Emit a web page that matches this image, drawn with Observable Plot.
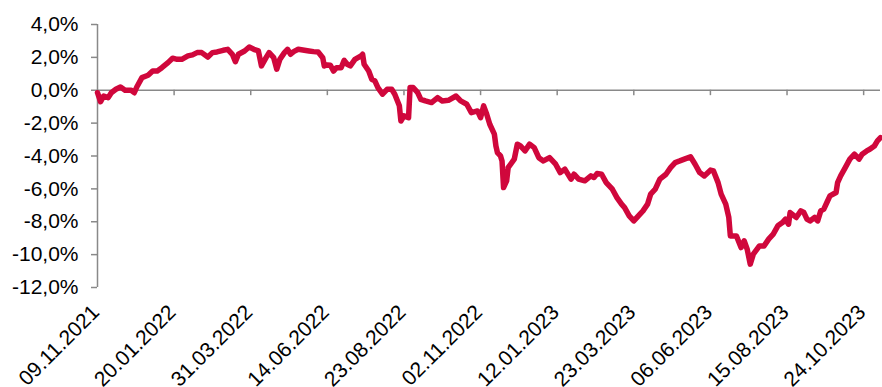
<!DOCTYPE html>
<html><head><meta charset="utf-8">
<script src="https://cdn.jsdelivr.net/npm/d3@7"></script>
<script src="https://cdn.jsdelivr.net/npm/@observablehq/plot@0.6"></script>
<style>html,body{margin:0;padding:0;background:#fff;overflow:hidden;}</style>
</head><body><div id="chart"></div>
<script>
// trading-day index since 09.11.2021
const dayIndex = [
  0,2,4,7,9,12,15,18,22,24,26,29,33,36,39,42,46,49,52,55,59,62,65,68,72,75,78,82,85,88,90,92,96,99,102,105,
  107,110,112,115,117,119,122,124,126,128,131,135,138,141,144,147,148,150,152,154,156,159,161,163,165,168,172,173,174,177,179,181,183,186,189,192,194,197,198,200,203,204,206,209,
  211,214,218,222,225,229,234,237,241,244,248,250,252,254,256,259,260,261,263,264,265,267,268,272,274,276,279,282,285,288,291,295,299,302,305,309,311,314,
  318,322,324,326,329,332,336,339,342,344,347,350,353,356,359,361,364,367,371,374,377,380,383,387,390,393,396,400,402,405,407,410,412,413,
  414,417,420,422,424,426,428,432,435,438,441,444,447,449,451,452,456,459,461,463,465,468,470,472,474,476,478,482,483,485,488,491,494,497,499,502,504,507,509,511
];
// cumulative change, %
const changePct = [
  -0.15,-0.7,-0.35,-0.45,-0.15,0.06,0.20,0.00,0.00,-0.15,0.26,0.77,0.91,1.17,1.17,1.37,1.68,1.95,1.88,1.88,2.09,2.15,2.29,2.29,2.02,2.29,2.33,2.43,2.49,2.19,1.74,2.19,2.39,2.63,2.49,2.39,
  1.48,1.98,2.29,1.98,1.28,1.88,2.29,2.49,2.19,2.35,2.49,2.43,2.39,2.35,2.33,1.98,1.48,1.54,1.52,1.17,1.37,1.37,1.82,1.58,1.48,1.88,2.09,2.19,1.58,1.17,0.67,0.57,0.16,-0.24,0.06,0.06,-0.24,-0.95,-1.87,-1.56,-1.67,0.16,0.16,-0.15,
  -0.55,-0.65,-0.75,-0.45,-0.65,-0.61,-0.35,-0.65,-0.85,-1.36,-1.26,-1.67,-0.95,-1.46,-2.07,-2.67,-3.39,-3.79,-3.99,-4.30,-5.92,-5.51,-4.71,-4.19,-3.28,-3.39,-3.69,-3.28,-3.49,-4.10,-4.30,-4.10,-4.50,-5.01,-4.80,-5.41,-5.11,-5.41,
  -5.51,-5.21,-5.31,-5.07,-5.11,-5.62,-6.02,-6.53,-6.93,-7.14,-7.64,-7.95,-7.64,-7.34,-6.93,-6.32,-6.02,-5.41,-5.11,-4.71,-4.40,-4.30,-4.19,-4.05,-4.50,-5.01,-5.21,-4.86,-4.91,-5.62,-6.32,-6.93,-7.74,-8.86,
  -8.86,-8.86,-9.57,-9.16,-9.67,-10.58,-9.97,-9.47,-9.47,-9.06,-8.75,-8.25,-8.05,-7.84,-8.15,-7.44,-7.74,-7.34,-7.44,-7.84,-7.95,-7.74,-7.95,-7.34,-7.23,-6.83,-6.43,-6.22,-5.62,-5.21,-4.71,-4.19,-3.89,-4.19,-3.89,-3.69,-3.59,-3.39,-3.08,-2.88
];
const tickLabels = ["09.11.2021","20.01.2022","31.03.2022","14.06.2022","23.08.2022","02.11.2022","12.01.2023","23.03.2023","06.06.2023","15.08.2023","24.10.2023"];
const tickStep = 50;
const yTicks = [-12,-10,-8,-6,-4,-2,0,2,4];

const series = dayIndex.map((d, k) => ({d, v: changePct[k]}));
const xTicks = tickLabels.map((label, k) => ({d: k * tickStep, label}));
const fmt = v => v.toFixed(1).replace(".", ",") + "%";
const axisGray = "#898989";

const chart = Plot.plot({
  width: 882, height: 387,
  marginLeft: 97, marginRight: 2, marginTop: 24, marginBottom: 100,
  style: {fontFamily: "'Liberation Sans', Arial, sans-serif", fontSize: "21px", color: "#000", background: "#fff", overflow: "visible"},
  x: {domain: [0, 511], axis: null},
  y: {domain: [-12, 4], axis: null},
  marks: [
    Plot.axisY(yTicks, {tickFormat: fmt, label: null, tickSize: 6, tickPadding: 13, stroke: axisGray, fill: "#000", strokeWidth: 1.5, fontSize: 21}),
    Plot.ruleX([0], {stroke: axisGray, strokeWidth: 1.5}),
    Plot.ruleY([0], {stroke: axisGray, strokeWidth: 1.5}),
    Plot.ruleX(xTicks, {x: "d", y1: 0, y2: -0.33, stroke: axisGray, strokeWidth: 1.5}),
    Plot.text(xTicks, {x: "d", frameAnchor: "bottom", text: "label", rotate: -45, textAnchor: "end", dx: 3, dy: 26, fill: "#000", fontSize: 21}),
    Plot.line(series, {x: "d", y: "v", stroke: "#d0073c", strokeWidth: 5.5, strokeLinejoin: "round", strokeLinecap: "round"})
  ]
});
document.getElementById("chart").appendChild(chart);
</script>
</body></html>
